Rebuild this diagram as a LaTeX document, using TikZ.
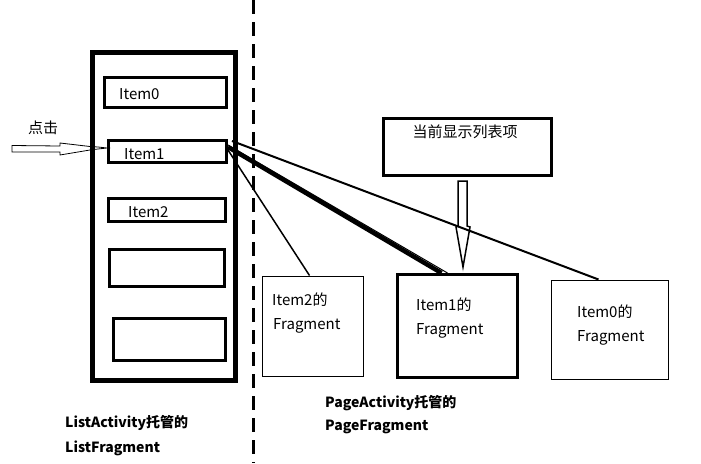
\documentclass[tikz,border=0pt]{standalone}
\usepackage{fontspec}
\setmainfont{Noto Sans CJK SC}
\begin{document}
\begin{tikzpicture}[x=1pt, y=-1pt,
    itembox/.style={rectangle, draw, line width=3pt, inner sep=0pt},
    fragbox/.style={rectangle, draw, line width=1pt, inner sep=0pt},
    txt/.style={anchor=west, inner sep=0pt, font=\fontsize{15}{17}\selectfont},
    bold/.style={anchor=west, inner sep=0pt, font=\fontsize{14}{16}\selectfont\bfseries}]
    \useasboundingbox (0,0) rectangle (701,463);
    % list side
    \node [rectangle, draw, line width=5pt, inner sep=0pt, minimum width=143, minimum height=328] (list) at (163.5,216) {};
    \node [itembox, minimum width=122, minimum height=30] (item0) at (165.5,92.5) {};
    \node [txt] at (119,94) {Item0};
    \node [itembox, minimum width=118, minimum height=22] (item1) at (167.5,151) {};
    \node [txt] at (124,154) {Item1};
    \node [itembox, minimum width=116.5, minimum height=23] (item2) at (166.8,210) {};
    \node [txt] at (128,212) {Item2};
    \node [itembox, minimum width=115.5, minimum height=37] (item3) at (166.8,268) {};
    \node [itembox, minimum width=112.5, minimum height=42] (item4) at (169.3,339.5) {};
    \node [bold] at (65,423) {ListActivity托管的};
    \node [bold] at (65,448) {ListFragment};
    % click arrow
    \node [txt] (click) at (28,128) {点击};
    \coordinate (tip) at (107,148);
    \draw [line width=0.8pt] (12,145.5) -- (60,146) -- (60,143) -- (90,146.5) -- (98,147) -- (tip)
        -- (98,149) -- (90,150) -- (60,155) -- (60,152) -- (12,152) -- cycle;
    % separator
    \draw [line width=3pt, dash pattern=on 14pt off 8pt] (253,0) -- (253,463);
    % page side
    \node [rectangle, draw, line width=2.5pt, inner sep=0pt, minimum width=168, minimum height=57] (cur) at (467.5,147) {};
    \node [font=\fontsize{15}{17}\selectfont, inner sep=0pt] at (465,132) {当前显示列表项};
    \node [fragbox, minimum width=101, minimum height=100] (frag2) at (312.5,326) {};
    \node [txt] at (272,300) {Item2的};
    \node [txt] at (273,326) {Fragment};
    \node [rectangle, draw, line width=3pt, inner sep=0pt, minimum width=120, minimum height=103] (frag1) at (457.5,326) {};
    \node [txt] at (416,305) {Item1的};
    \node [txt] at (416,331) {Fragment};
    \node [fragbox, minimum width=117, minimum height=99] (frag0) at (609.5,329.5) {};
    \node [txt] at (577,312) {Item0的};
    \node [txt] at (577,338) {Fragment};
    \node [bold] at (325,403) {PageActivity托管的};
    \node [bold] at (325,427) {PageFragment};
    % down arrow
    \coordinate (dtip) at (463,267);
    \draw [line width=1.5pt] (458,181) -- (467,181) -- (467,226) -- (470,227) -- (dtip)
        -- (456,227) -- (458,226) -- cycle;
    % links
    \draw [line width=1.5pt] ([yshift=1]item1.east) -- ([xshift=-3]frag2.north);
    \draw [line width=4.5pt] ([yshift=4]item1.east) -- ([xshift=-16]frag1.north);
    \draw [line width=1pt] ([yshift=6]item1.east) -- ([xshift=-10]frag1.north);
    \draw [line width=2pt] ([xshift=4,yshift=10]item1.east) -- ([xshift=-11]frag0.north);
\end{tikzpicture}
\end{document}
